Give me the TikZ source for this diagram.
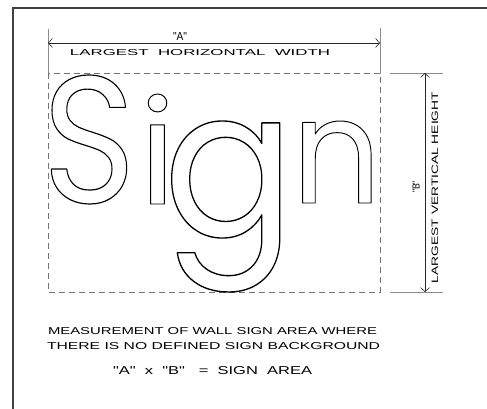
\documentclass[tikz,border=0pt]{standalone}
\usepackage{fontspec}
\usepackage{graphicx}
\setmainfont{Liberation Sans}
\newfontfamily\signfont{Poppins}
\newfontfamily\handfont{Liberation Sans}
\usetikzlibrary{arrows.meta}
\newcommand\outl[1]{\special{pdf:literal direct 1 Tr 1.2 w 1 j}{\signfont\fontsize{184}{184}\selectfont #1}\special{pdf:literal direct 0 Tr}}
\newcommand\glyphfit[4]{\makebox[#4]{\scalebox{#1}[1]{\resizebox*{!}{#2}{\outl{#3}}}}}
\newcommand\handfit[3]{\resizebox{#1}{#2}{\handfont #3}}
\tikzset{
  letter/.style={inner sep=0pt, outer sep=0pt, anchor=south},
  lbl/.style={inner sep=0pt, outer sep=0pt},
  frameline/.style={line width=1.2pt, draw=black!75},
  extline/.style={line width=0.5pt, draw=black!45},
  dashbox/.style={line width=0.6pt, draw=black!55, dash pattern=on 6pt off 4pt},
  dimline/.style={line width=0.6pt, draw=black!85, {Straight Barb[length=4pt,width=9pt]}-{Straight Barb[length=4pt,width=9pt]}}
}
\begin{document}
\begin{tikzpicture}[x=1pt,y=-1pt]
\useasboundingbox (0,0) rectangle (487,409);
% frame
\coordinate (fb) at (13,409);
\coordinate (ftl) at (13,8);
\coordinate (fr) at (487,8);
\draw[frameline] (fb) -- (ftl) -- (fr);
% dashed box corners
\coordinate (bTL) at (48,73);
\coordinate (bBR) at (380,292);
\draw[dashbox] (bTL) rectangle (bBR);
% extension lines
\coordinate (eL1) at (48,29);
\coordinate (eR1) at (380,28);
\coordinate (eR2) at (380,73);
\coordinate (eT1) at (390,73);
\coordinate (eT2) at (443,73);
\coordinate (eB1) at (390,292);
\coordinate (eB2) at (443,292);
\draw[extline] (eL1) -- (bTL);
\draw[extline] (eR1) -- (eR2);
\draw[extline] (eT1) -- (eT2);
\draw[extline] (eB1) -- (eB2);
% dimension lines
\coordinate (hA) at (48,43);
\coordinate (hB) at (380,43);
\draw[dimline] (hA) -- (hB);
\coordinate (vA) at (425,73);
\coordinate (vB) at (425,292);
\draw[dimline] (vA) -- (vB);
% labels
\node[lbl] (A) at (180,37) {\handfit{14pt}{8pt}{"A"}};
\node[lbl] (hw) at (200,53) {\handfit{260pt}{6pt}{LARGEST\ \ HORIZONTAL\ \ WIDTH}};
\node[lbl, rotate=90] (B) at (416,187) {\handfit{12pt}{7pt}{"B"}};
\node[lbl, rotate=90] (vh) at (435,187.5) {\handfit{191pt}{6.5pt}{LARGEST VERTICAL HEIGHT}};
% sign letters
\node[letter] (S) at (89,204) {\glyphfit{0.88}{129pt}{S}{84pt}};
\node[letter] (i) at (157.5,204) {\glyphfit{1.05}{110pt}{i}{21pt}};
\node[letter] (g) at (229,292) {\glyphfit{0.94}{171pt}{g}{82pt}};
\node[letter] (n) at (336.5,203) {\glyphfit{0.95}{82pt}{n}{87pt}};
% bottom text
\node[lbl, anchor=west] (t1) at (48,330.7) {\handfit{329pt}{7pt}{MEASUREMENT OF WALL SIGN AREA WHERE}};
\node[lbl, anchor=west] (t2) at (47,346) {\handfit{333pt}{7pt}{THERE IS NO DEFINED SIGN BACKGROUND}};
\node[lbl, anchor=west] (t3) at (113,371) {\handfit{199pt}{8pt}{"A"\ \ x\ \ "B"\ \ \ =\ \ SIGN\ \ AREA}};
\end{tikzpicture}
\end{document}
